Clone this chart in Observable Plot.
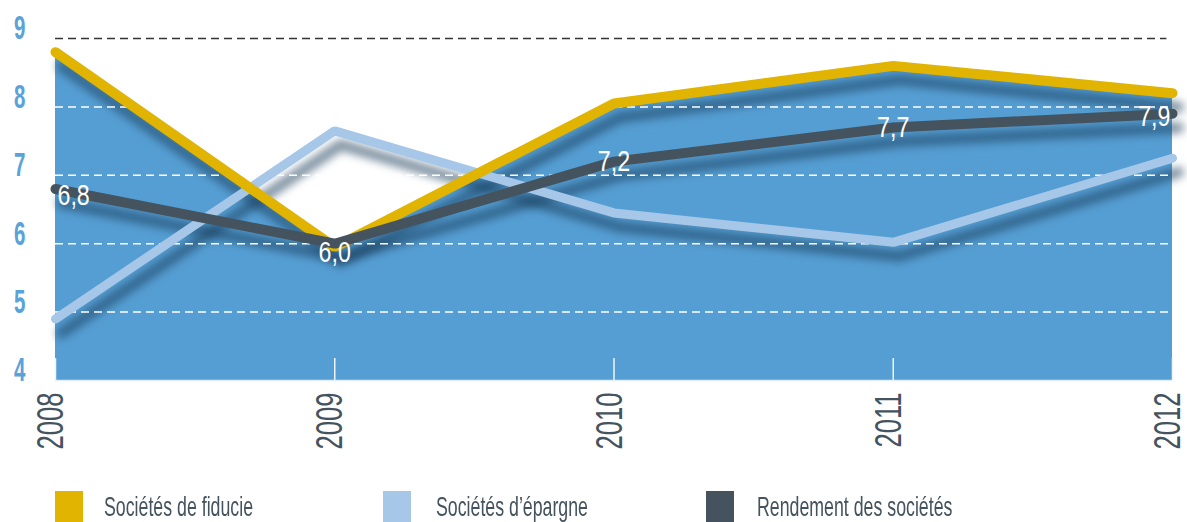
<!DOCTYPE html>
<html>
<head>
<meta charset="utf-8">
<script src="https://cdn.jsdelivr.net/npm/d3@7"></script>
<script src="https://cdn.jsdelivr.net/npm/@observablehq/plot@0.6"></script>
<style>
  html, body { margin: 0; padding: 0; background: #ffffff; }
  #wrap { position: relative; width: 1187px; height: 522px; overflow: hidden; }
  #legend { position: absolute; left: 0; top: 470px; width: 1187px; height: 52px; }
  .sw { position: absolute; top: 21px; width: 28px; height: 31px; }
  .lt { position: absolute; top: 22px; font-family: "Liberation Sans", Arial, sans-serif; line-height: 30px;
        font-size: 28px; color: #44535e; white-space: nowrap; transform-origin: left center; }
</style>
</head>
<body>
<div id="wrap">
  <div id="chart"></div>
  <div id="legend"></div>
</div>
<script>
// ---- data ----
const years = [2008, 2009, 2010, 2011, 2012];
const fiducie = [8.8, 5.95, 8.05, 8.6, 8.2];      // Sociétés de fiducie
const epargne = [4.9, 7.65, 6.45, 6.02, 7.25];    // Sociétés d'épargne
const rendement = [6.8, 6.0, 7.2, 7.7, 7.9];      // Rendement des sociétés
const rendementLabels = ["6,8", "6,0", "7,2", "7,7", "7,9"];
const yTicks = [4, 5, 6, 7, 8, 9];
const seriesNames = ["Sociétés de fiducie", "Sociétés d’épargne", "Rendement des sociétés"];

// ---- styles ----
const C = { area: "#559ed3", fid: "#e0b400", epa: "#a6c7e7", ren: "#44535e", ytick: "#5aa2da" };
const FONT = "'Liberation Sans', Arial, sans-serif";

const rows = years.map((y, i) => ({ year: y, fid: fiducie[i], epa: epargne[i], ren: rendement[i], lab: rendementLabels[i], i }));

const shadow = (key) => Plot.line(rows, { x: "year", y: key, stroke: "#173a58", strokeOpacity: 0.55, strokeWidth: 11,
  dx: 6, dy: 14 });

const lineOpts = { strokeLinecap: "round", strokeLinejoin: "miter" };

const labelMark = (idx, opts) => Plot.text(rows.filter(d => d.i === idx), Object.assign({
  x: "year", y: "ren", text: "lab", fill: "white", fontSize: 29, fontFamily: FONT, textAnchor: "middle"
}, opts));

const marks = {
  area: Plot.areaY(rows, { x: "year", y1: () => 4, y2: "fid", fill: C.area }),
  base: Plot.ruleY([4], { x1: () => 2008, x2: () => 2012, stroke: "#e2edf7", strokeWidth: 1.5 }),
  ticks: Plot.ruleX(years, { x: d => d, y1: () => 4, y2: () => 4.32, stroke: "#eef4fa", strokeWidth: 1.5 }),
  sh1: shadow("epa"),
  sh2: shadow("fid"),
  sh3: shadow("ren"),
  grid: Plot.ruleY([5, 6, 7, 8], { stroke: "white", strokeWidth: 1.5, strokeDasharray: "8,5" }),
  top: Plot.ruleY([9], { x1: () => 2008, x2: () => 2011.98, stroke: "#333", strokeWidth: 1.5, strokeDasharray: "8,5" }),
  l1: Plot.line(rows, { x: "year", y: "epa", stroke: C.epa, strokeWidth: 9, ...lineOpts }),
  l2: Plot.line(rows, { x: "year", y: "fid", stroke: C.fid, strokeWidth: 10, ...lineOpts }),
  l3: Plot.line(rows, { x: "year", y: "ren", stroke: C.ren, strokeWidth: 10, ...lineOpts }),
  v0: labelMark(0, { textAnchor: "start", dx: 2, dy: 7 }),
  v1: labelMark(1, { dy: 9 }),
  v2: labelMark(2, { dy: 0 }),
  v3: labelMark(3, { dy: 0 }),
  v4: labelMark(4, { textAnchor: "end", dx: -2, dy: 3 }),
  ylab: Plot.text(yTicks, { y: d => d, text: d => String(d), frameAnchor: "left", dx: -30, dy: -10, textAnchor: "end",
      fill: C.ytick, fontSize: 34, fontWeight: "bold", fontFamily: FONT }),
  xlab: Plot.text(years, { x: d => d, y: () => 4, text: d => String(d), rotate: -90, textAnchor: "end", dx: -4, dy: 12,
      fill: C.ren, fontSize: 36, fontFamily: FONT })
};
const keys = Object.keys(marks);

const chart = Plot.plot({
  width: 1187,
  height: 470,
  marginLeft: 55,
  marginRight: 15,
  marginTop: 38,
  marginBottom: 90,
  x: { domain: [2008, 2012], axis: null },
  y: { domain: [4, 9], axis: null },
  style: { background: "transparent", overflow: "visible" },
  marks: keys.map(k => marks[k])
});
document.getElementById("chart").appendChild(chart);

const groups = Array.from(chart.children).filter(el => el.tagName.toLowerCase() === "g");
const G = {};
keys.forEach((k, i) => { G[k] = groups[i]; });

["sh1", "sh2", "sh3"].forEach(k => { if (G[k]) G[k].style.filter = "blur(4px)"; });

// condense texts (the original uses a condensed typeface)
function condense(g, factor) {
  if (!g) return;
  g.querySelectorAll("text").forEach(t => {
    const len = t.getComputedTextLength();
    t.setAttribute("textLength", (len * factor).toFixed(1));
    t.setAttribute("lengthAdjust", "spacingAndGlyphs");
  });
}
condense(G.xlab, 0.71);
condense(G.ylab, 0.6);
["v0", "v1", "v2", "v3", "v4"].forEach(k => condense(G[k], 0.8));

// legend
const legend = document.getElementById("legend");
const legendColors = [C.fid, C.epa, C.ren];
const swX = [55, 383, 706];
const txX = [104, 436, 757];
const texts = [];
seriesNames.forEach((name, i) => {
  const sw = document.createElement("div");
  sw.className = "sw"; sw.style.left = swX[i] + "px"; sw.style.background = legendColors[i];
  legend.appendChild(sw);
  const t = document.createElement("div");
  t.className = "lt"; t.style.left = txX[i] + "px"; t.textContent = name;
  legend.appendChild(t);
  texts.push(t);
});
const kx = 149 / texts[0].getBoundingClientRect().width;
texts.forEach(t => { t.style.transform = `scaleX(${kx.toFixed(3)})`; });
</script>
</body>
</html>
